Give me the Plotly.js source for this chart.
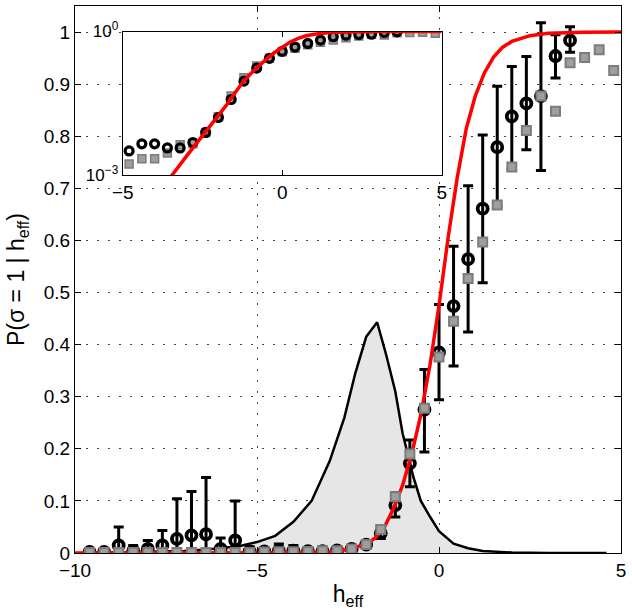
<!DOCTYPE html>
<html>
<head>
<meta charset="utf-8">
<script src="https://cdn.plot.ly/plotly-3.0.1.min.js"></script>
<style>html,body{margin:0;padding:0;background:#fff;}#chart{width:632px;height:610px;}</style>
</head>
<body>
<div id="chart"></div>
<script>
// bin centres of h_eff
const binX = [-9.6,-9.2,-8.8,-8.4,-8.0,-7.6,-7.2,-6.8,-6.4,-6.0,-5.6,-5.2,-4.8,-4.4,-4.0,-3.6,-3.2,-2.8,-2.4,-2.0,-1.6,-1.2,-0.8,-0.4,0.0,0.4,0.8,1.2,1.6,2.0,2.4,2.8,3.2,3.6,4.0,4.4,4.8];
// black circles (measured) with asymmetric error bars
const circY = [0.002,0.002,0.0145,0.004,0.008,0.0145,0.027,0.034,0.036,0.008,0.024,0.003,0.0032,0.0045,0.0045,0.0037,0.0037,0.0048,0.0078,0.016,0.038,0.092,0.172,0.275,0.385,0.474,0.564,0.661,0.779,0.838,0.863,0.877,0.954,0.984,null,null,null];
const errPlus = [0,0,0.0355,0.0105,0.016,0.0285,0.077,0.084,0.109,0.021,0.076,0.009,0.005,0.013,0.010,0.005,0.003,0.003,0.004,0.006,0.012,0.023,0.045,0.077,0.092,0.115,0.141,0.1415,0.117,0.096,0.09,0.141,0.041,0.026,0,0,0];
const errMinus = [0.002,0.002,0.0145,0.004,0.008,0.0145,0.027,0.034,0.036,0.008,0.024,0.003,0.003,0.003,0.003,0.003,0.003,0.003,0.004,0.006,0.01,0.023,0.045,0.081,0.091,0.115,0.14,0.142,0.114,0.103,0.089,0.143,0.042,0.023,0,0,0];
// grey squares
const sqY = [0.001,0.001,0.001,0.001,0.001,0.001,0.001,0.001,0.001,0.001,0.001,0.001,0.0017,0.0022,0.0022,0.0029,0.0043,0.0045,0.0078,0.0165,0.045,0.108,0.19,0.278,0.376,0.445,0.527,0.597,0.668,0.741,0.811,0.877,0.848,0.941,0.951,0.966,0.926];
// red curve
const redX = [-10,-5,-4.5,-4,-3.5,-3,-2.5,-2,-1.75,-1.5,-1.25,-1,-0.75,-0.5,-0.25,0,0.25,0.5,0.75,1,1.25,1.5,1.75,2,2.5,3,3.5,4,5];
const redY = [0.000001,0.000045,0.00012,0.00034,0.00091,0.0025,0.0065,0.0175,0.029,0.05,0.085,0.13,0.19,0.265,0.36,0.475,0.605,0.72,0.815,0.878,0.922,0.952,0.971,0.982,0.993,0.9975,0.9991,0.9997,1.0];
// distribution of h_eff
const histX = [-9.8,-9,-8,-7,-6.5,-6,-5.5,-5,-4.5,-4,-3.5,-3,-2.6,-2.3,-2.0,-1.7,-1.45,-1.2,-1.0,-0.7,-0.5,-0.25,0,0.4,0.8,1.2,1.6,2,3,4.6];
const histY = [0.0,0.001,0.002,0.004,0.006,0.009,0.013,0.021,0.033,0.06,0.1,0.177,0.26,0.345,0.415,0.443,0.38,0.31,0.23,0.145,0.1,0.07,0.042,0.018,0.009,0.004,0.002,0.001,0.0,0.0];
// ticks
const xTicks = [-10,-5,0,5];
const xTickText = ['\u221210','\u22125','0','5'];
const insetXTicks = [-5,0,5];
const insetXTickText = ['\u22125','0','5'];
const insetYTicks = [0.001,1];
const insetYTickText = ['10<sup>\u22123</sup>','10<sup>0</sup>'];

const sqMarker = {symbol:'square', size:9, color:'#9e9e9e', line:{color:'#7c7c7c', width:2}};
const traces = [
  {x:histX, y:histY, type:'scatter', mode:'lines', fill:'tozeroy', fillcolor:'#e6e6e6', line:{color:'black', width:2.5}, hoverinfo:'skip'},
  {x:binX, y:circY, type:'scatter', mode:'markers', marker:{symbol:'circle-open', size:10, color:'black', line:{color:'black', width:3.8}},
   error_y:{type:'data', symmetric:false, array:errPlus, arrayminus:errMinus, color:'black', thickness:3, width:5}},
  {x:redX, y:redY, type:'scatter', mode:'lines', line:{color:'#ff0000', width:3.5}},
  {x:binX, y:sqY, type:'scatter', mode:'markers', marker:sqMarker},
  // inset
  {x:binX, y:sqY, xaxis:'x2', yaxis:'y2', type:'scatter', mode:'markers', marker:{symbol:'square', size:8, color:'#9e9e9e', line:{color:'#7c7c7c', width:1.5}}},
  {x:binX, y:circY, xaxis:'x2', yaxis:'y2', type:'scatter', mode:'markers', marker:{symbol:'circle-open', size:8, color:'black', line:{color:'black', width:3.2}}},
  {x:redX, y:redY, xaxis:'x2', yaxis:'y2', type:'scatter', mode:'lines', line:{color:'#ff0000', width:3.5}}
];

const layout = {
  width:632, height:610,
  margin:{l:75, r:11, t:6, b:57},
  paper_bgcolor:'white', plot_bgcolor:'white',
  font:{family:'Liberation Sans, Arial, sans-serif', size:19, color:'black'},
  showlegend:false,
  xaxis:{range:[-10,5], tickvals:xTicks, ticktext:xTickText, ticks:'inside', ticklen:6, tickcolor:'black',
    showline:true, mirror:'ticks', linecolor:'black', linewidth:1,
    showgrid:true, gridcolor:'#444', gridwidth:1, griddash:'2px,9px', zeroline:false,
    title:{text:'h<sub>eff</sub>', standoff:6}},
  yaxis:{range:[0,1.05], dtick:0.1, tick0:0, ticks:'inside', ticklen:6, tickcolor:'black',
    showline:true, mirror:'ticks', linecolor:'black', linewidth:1,
    showgrid:true, gridcolor:'#444', gridwidth:1, griddash:'2px,9px', zeroline:false,
    title:{text:'P(\u03c3 = 1 | h<sub>eff</sub>)', standoff:12}},
  xaxis2:{domain:[0.0874,0.6716], anchor:'y2', range:[-5,5], tickvals:insetXTicks, ticktext:insetXTickText,
    ticks:'inside', ticklen:5, tickcolor:'black', showline:true, mirror:'ticks', linecolor:'black', linewidth:1,
    showgrid:false, zeroline:false, tickfont:{size:19}},
  yaxis2:{domain:[0.6908,0.9533], anchor:'x2', type:'log', range:[-3,0], tickvals:insetYTicks, ticktext:insetYTickText,
    ticks:'inside', ticklen:5, tickcolor:'black', showline:true, mirror:'ticks', linecolor:'black', linewidth:1,
    showgrid:false, zeroline:false, tickfont:{size:17}}
};
Plotly.newPlot('chart', traces, layout, {staticPlot:true, displayModeBar:false});
</script>
</body>
</html>
